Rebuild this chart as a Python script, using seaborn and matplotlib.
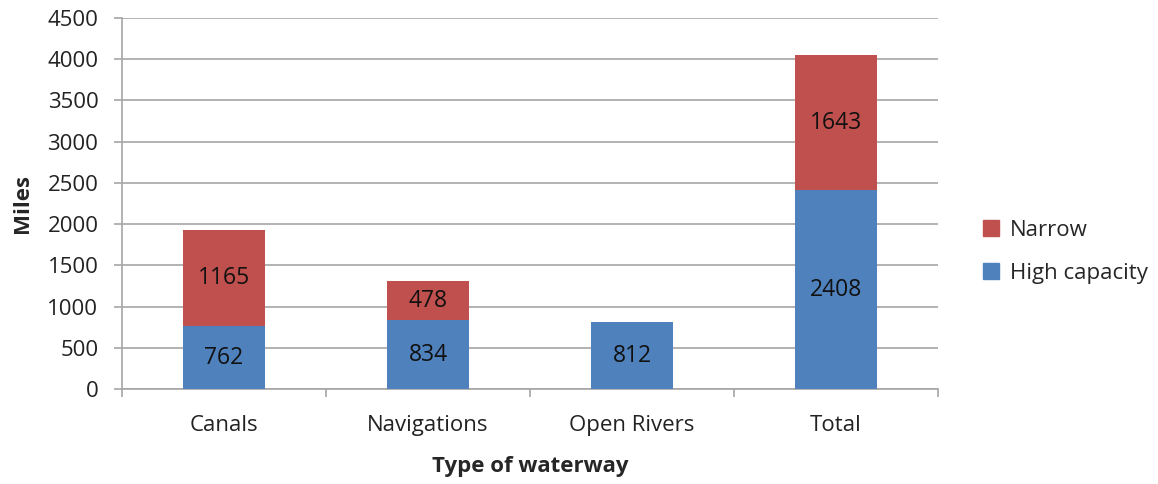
import matplotlib.pyplot as plt
import matplotlib.patches as mpatches
import seaborn as sns
import pandas as pd
import numpy as np

categories = ['Canals', 'Navigations', 'Open Rivers', 'Total']
high_capacity = [762, 834, 812, 2408]
narrow = [1165, 478, 0, 1643]

BLUE = '#4F81BD'
RED = '#C0504D'
GRID = '#A6A6A6'
FS = 16

sns.set_style('white')
plt.rcParams['font.family'] = ['Open Sans', 'DejaVu Sans']

df = pd.DataFrame({'category': categories, 'high': high_capacity, 'narrow': narrow})

fig = plt.figure(figsize=(11.58, 4.84), dpi=100)
ax = fig.add_axes([122 / 1158, 1 - 389 / 484, (938 - 122) / 1158, (389 - 18) / 484])

sns.barplot(data=df, x='category', y='high', color=BLUE, width=0.4,
            saturation=1, linewidth=0, ax=ax, zorder=3)
sns.barplot(data=df, x='category', y='narrow', bottom=df['high'], color=RED,
            width=0.4, saturation=1, linewidth=0, ax=ax, zorder=3)

hi_bars, nar_bars = ax.containers[0], ax.containers[1]
ax.bar_label(hi_bars, labels=[str(v) for v in high_capacity],
             label_type='center', fontsize=FS + 0.5, color='#111111')
ax.bar_label(nar_bars, labels=[str(v) if v else '' for v in narrow],
             label_type='center', fontsize=FS + 0.5, color='#111111')

ax.set_ylim(0, 4500)
ax.set_yticks(np.arange(0, 4501, 500))
ax.set_xlim(-0.5, 3.5)
ax.yaxis.grid(True, color=GRID, linewidth=1.2, zorder=0)
ax.set_axisbelow(True)

for side in ['top', 'right']:
    ax.spines[side].set_visible(False)
for side in ['left', 'bottom']:
    ax.spines[side].set_color(GRID)
    ax.spines[side].set_linewidth(1.2)

ax.tick_params(axis='y', length=6, width=1.2, color=GRID, pad=11,
               labelsize=FS, labelcolor='#222222', left=True)
ax.tick_params(axis='x', which='major', length=0, pad=19,
               labelsize=FS, labelcolor='#222222')
ax.set_xticks(np.arange(-0.5, 3.6, 1), minor=True)
ax.tick_params(axis='x', which='minor', length=6, width=1.2, color=GRID, bottom=True)

ax.set_xlabel('Type of waterway', fontsize=FS, fontweight='bold', labelpad=14)
ax.set_ylabel('Miles', fontsize=FS, fontweight='bold', labelpad=10)

handles = [mpatches.Patch(color=RED, label='Narrow'),
           mpatches.Patch(color=BLUE, label='High capacity')]
fig.legend(handles=handles, loc='center left', bbox_to_anchor=(0.832, 0.48),
           frameon=False, fontsize=FS, handlelength=0.7, handleheight=0.7,
           handletextpad=0.5, labelspacing=1.0)

fig.savefig('out.png', dpi=100)
